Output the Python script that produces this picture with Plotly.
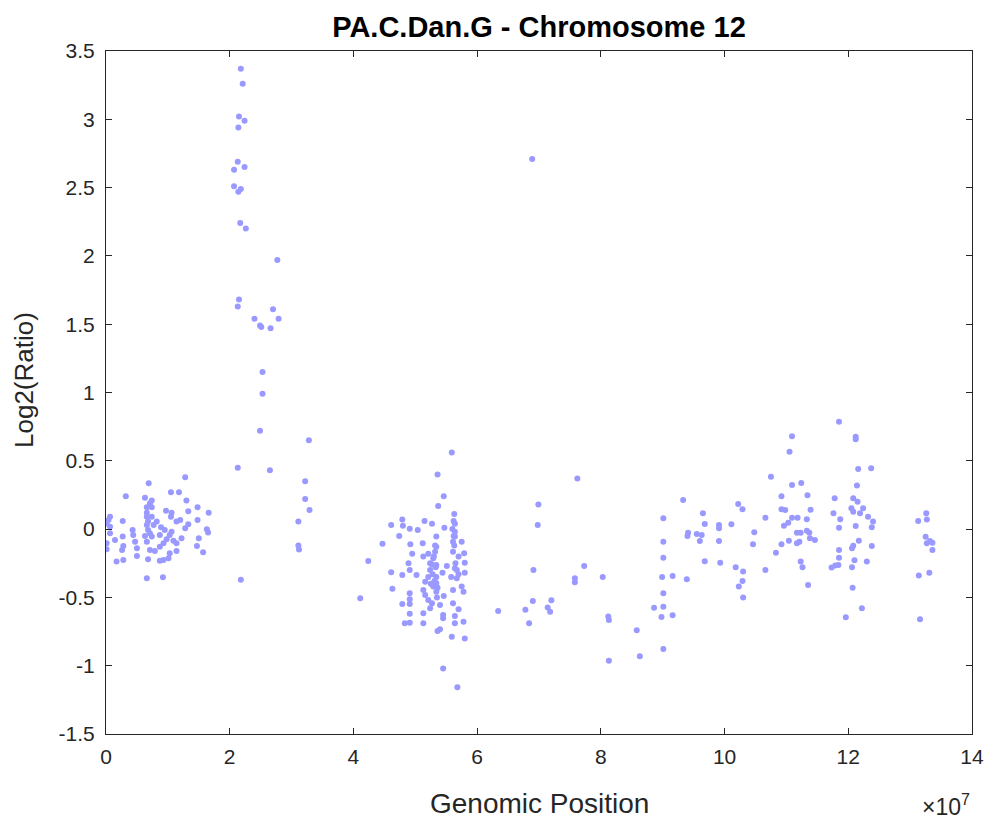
import plotly.graph_objects as go

# Genomic positions (units of 1e7 bp) and log2 ratios
pos_a = [2.18, 2.21, 2.15, 2.24, 2.14, 2.13, 2.24, 2.07, 2.07, 2.18, 2.14, 2.17, 2.26,
         2.77, 2.15, 2.13, 2.70, 2.40, 2.79, 2.49, 2.51, 2.66, 2.53, 2.53, 2.49, 3.28,
         2.13, 2.65, 3.22, 3.22, 3.29, 3.11, 3.11, 3.12, 2.18]
val_a = [3.37, 3.26, 3.02, 2.99, 2.94, 2.69, 2.65, 2.63, 2.51, 2.49, 2.47, 2.24, 2.20,
         1.97, 1.68, 1.63, 1.61, 1.54, 1.54, 1.49, 1.48, 1.47, 1.15, 0.99, 0.72, 0.65,
         0.45, 0.43, 0.35, 0.22, 0.14, 0.055, -0.12, -0.15, -0.37]

pos_b = [1.28, 0.69, 0.32, 1.05, 1.18, 0.63, 0.74, 1.30, 0.71, 0.66, 0.74, 1.48, 0.97,
         1.06, 1.33, 1.66, 0.66, 0.065, 0.66, 0.74, 1.05, 1.20, 1.48, 0.04, 0.27, 1.14,
         0.68, 0.82, 0.01, 0.66, 0.77, 1.33, 0.065, 0.89, 0.68, 0.95, 1.28, 0.43, 1.63,
         1.06, 0.71, 1.65, 0.44, 0.065, 0.87, 1.03, 0.63, 0.74, 0.27, 1.22, 0.98, 1.50,
         0.145, 1.09, 0.47, 0.93, 0.66, 0.01, 1.14, 0.28, 1.47, 0.87, 0.71, 0.01, 0.50,
         0.79, 1.14, 0.26, 1.57, 1.03, 0.50, 0.68, 0.93, 1.01, 0.17, 0.28, 0.87, 0.66, 0.92]
val_b = [0.38, 0.335, 0.24, 0.27, 0.27, 0.23, 0.21, 0.21, 0.19, 0.16, 0.16, 0.16, 0.135,
         0.12, 0.13, 0.12, 0.12, 0.09, 0.09, 0.09, 0.09, 0.067, 0.067, 0.067, 0.06, 0.055,
         0.055, 0.055, 0.04, 0.03, 0.03, 0.035, 0.018, 0.013, -0.007, -0.007, 0.006, -0.007, -0.002,
         -0.02, -0.03, -0.024, -0.043, -0.03, -0.043, -0.043, -0.05, -0.055, -0.055, -0.067, -0.075, -0.067,
         -0.08, -0.085, -0.092, -0.104, -0.092, -0.104, -0.104, -0.124, -0.124, -0.13, -0.153, -0.148, -0.14,
         -0.16, -0.16, -0.153, -0.17, -0.177, -0.197, -0.22, -0.226, -0.214, -0.238, -0.226, -0.231, -0.36, -0.353]

pos_c = [5.59, 5.36, 5.46, 5.37, 5.63, 4.79, 5.15, 5.27, 4.61, 4.80, 4.91, 5.04, 5.47,
         5.64, 5.64, 4.74, 5.34, 5.64, 4.47, 4.92, 5.12, 5.34, 5.61, 5.75, 5.32, 5.61,
         5.79, 4.95, 5.21, 5.13, 5.70, 5.29, 4.24, 5.80, 4.89, 5.24, 5.34, 5.51, 5.64,
         4.91, 5.24, 4.61, 4.79, 5.02, 5.44, 5.80, 5.21, 5.34, 5.67, 5.16, 5.34, 5.29,
         5.75, 4.63, 5.13, 5.61, 5.78, 5.34, 4.91, 5.16, 5.46, 4.11, 4.91, 5.21, 5.61,
         4.79, 4.91, 5.27, 5.40, 5.24, 5.70, 4.91, 5.13, 5.45, 5.64, 5.78, 4.83, 4.91,
         5.13, 5.45, 5.64, 5.40, 5.36, 5.59, 5.80, 5.45, 5.68,
         5.30, 5.33, 5.28, 5.31, 5.36, 5.27, 5.32, 5.62, 5.60, 5.63, 5.65, 5.67, 5.62,
         5.58, 5.70, 5.25, 5.35]
val_c = [0.56, 0.40, 0.24, 0.17, 0.11, 0.07, 0.06, 0.04, 0.03, 0.025, 0.003, -0.007, 0.01,
         0.04, -0.02, -0.05, -0.055, -0.055, -0.107, -0.11, -0.104, -0.13, -0.092, -0.092, -0.165, -0.165,
         -0.177, -0.18, -0.18, -0.20, -0.20, -0.214, -0.233, -0.246, -0.25, -0.25, -0.263, -0.27, -0.287,
         -0.30, -0.30, -0.316, -0.336, -0.336, -0.32, -0.32, -0.35, -0.35, -0.36, -0.385, -0.397, -0.42,
         -0.42, -0.436, -0.446, -0.446, -0.458, -0.458, -0.47, -0.482, -0.49, -0.507, -0.514, -0.519, -0.543,
         -0.548, -0.548, -0.543, -0.556, -0.58, -0.587, -0.62, -0.616, -0.629, -0.636, -0.678, -0.69, -0.685,
         -0.69, -0.653, -0.69, -0.734, -0.746, -0.788, -0.80, -1.02, -1.158,
         -0.20, -0.28, -0.33, -0.38, -0.43, -0.26, -0.12, -0.05, 0.0, -0.12, -0.25, -0.30, 0.06,
         -0.35, -0.33, -0.40, -0.50]

pos_d = [6.89, 7.62, 6.99, 6.98, 6.91, 7.73, 7.58, 7.58, 6.90, 7.20, 6.34, 6.78, 7.14,
         7.18, 6.84,
         9.33, 9.01, 9.65, 10.22, 10.29, 9.68, 9.91, 9.91, 10.11, 10.48, 9.41, 9.40, 9.55,
         9.63, 9.60, 9.91, 10.46, 9.01, 9.01, 9.68, 9.93, 10.18, 10.30, 10.29, 10.23, 10.30,
         8.03, 8.99, 9.16, 9.39, 9.01, 8.86, 9.01, 8.98, 9.16, 8.12, 8.13, 8.58, 8.63,
         9.01, 8.13]
val_d = [2.71, 0.37, 0.18, 0.03, -0.30, -0.27, -0.36, -0.39, -0.526, -0.52, -0.60, -0.59, -0.574,
         -0.605, -0.69,
         0.213, 0.079, 0.116, 0.184, 0.145, 0.037, 0.03, 0.006, 0.035, -0.023, -0.026, -0.05, -0.036,
         -0.043, -0.087, -0.087, -0.11, -0.092, -0.21, -0.236, -0.246, -0.28, -0.31, -0.38, -0.42, -0.50,
         -0.35, -0.35, -0.343, -0.367, -0.47, -0.575, -0.568, -0.643, -0.63, -0.64, -0.665, -0.74, -0.93,
         -0.878, -0.963]

pos_e = [11.85, 11.09, 12.12, 12.12, 11.05, 12.16, 12.37, 10.75, 11.09, 11.24, 12.14, 10.92,
         11.34, 11.78, 12.08, 12.15, 10.92, 10.98, 11.39, 12.05, 12.24, 12.08, 12.19, 10.66,
         11.09, 11.18, 11.33, 11.76, 11.87, 12.32, 12.40, 11.03, 10.96, 11.85, 12.12, 12.38,
         11.17, 11.23, 11.33, 11.37, 11.38, 11.46, 11.04, 11.17, 11.21, 10.92, 12.17, 12.08,
         12.06, 12.38, 10.83, 11.85, 11.85, 12.10, 12.30, 11.23, 11.26, 11.79, 11.73, 11.84,
         12.06, 10.66, 11.35, 12.07, 12.22, 11.96,
         13.26, 13.13, 13.27, 13.25, 13.27, 13.32, 13.36, 13.36, 13.14, 13.31, 13.16]
val_e = [0.786, 0.68, 0.676, 0.657, 0.567, 0.44, 0.445, 0.384, 0.323, 0.337, 0.32, 0.24,
         0.247, 0.225, 0.225, 0.20, 0.145, 0.14, 0.142, 0.152, 0.152, 0.127, 0.116, 0.084,
         0.084, 0.084, 0.072, 0.116, 0.072, 0.09, 0.055, 0.047, 0.025, 0.01, 0.023, 0.013,
         -0.026, -0.026, -0.012, -0.026, -0.067, -0.08, -0.085, -0.104, -0.092, -0.11, -0.085, -0.121,
         -0.14, -0.124, -0.173, -0.153, -0.21, -0.228, -0.238, -0.238, -0.28, -0.267, -0.282, -0.263,
         -0.28, -0.30, -0.41, -0.43, -0.58, -0.645,
         0.116, 0.06, 0.07, -0.056, -0.104, -0.087, -0.10, -0.153, -0.34, -0.32, -0.66]

x_ticks = [0, 2, 4, 6, 8, 10, 12, 14]
y_ticks = [-1.5, -1, -0.5, 0, 0.5, 1, 1.5, 2, 2.5, 3, 3.5]
y_tick_labels = ["-1.5", "-1", "-0.5", "0", "0.5", "1", "1.5", "2", "2.5", "3", "3.5"]

SCALE = 1e7
xs = [p * SCALE for p in pos_a + pos_b + pos_c + pos_d + pos_e]
ys = val_a + val_b + val_c + val_d + val_e

font_family = "Liberation Sans, Arial, sans-serif"
axis_color = "#262626"
# page has an 8px body margin
W, H = 976, 814
ML, MR, MT, MB = 98, 12, 43, 88
PW, PH = W - ML - MR, H - MT - MB

fig = go.Figure()
fig.add_trace(go.Scatter(
    x=xs, y=ys, mode="markers",
    marker=dict(color="#9999ff", size=6, line=dict(width=0)),
    showlegend=False, hoverinfo="skip",
))

fig.update_layout(
    width=W, height=H,
    margin=dict(l=ML, r=MR, t=MT, b=MB, autoexpand=False),
    paper_bgcolor="white", plot_bgcolor="white",
    title=dict(text="<b>PA.C.Dan.G - Chromosome 12</b>", x=(ML + PW / 2) / W, xanchor="center",
               y=1 - 19 / H, yanchor="middle",
               font=dict(family=font_family, size=29, color="black")),
    font=dict(family=font_family, color=axis_color),
)
fig.update_xaxes(
    range=[0, 14 * SCALE], automargin=False,
    tickvals=[t * SCALE for t in x_ticks], ticktext=[str(t) for t in x_ticks],
    ticks="inside", ticklen=6, tickcolor=axis_color, tickwidth=1,
    showline=True, linecolor=axis_color, linewidth=1, mirror="allticks",
    showgrid=False, zeroline=False, ticklabelstandoff=4,
    tickfont=dict(size=21, color=axis_color),
)
fig.update_yaxes(
    range=[-1.5, 3.5], automargin=False,
    tickvals=y_ticks, ticktext=y_tick_labels,
    ticks="inside", ticklen=6, tickcolor=axis_color, tickwidth=1,
    showline=True, linecolor=axis_color, linewidth=1, mirror="allticks",
    showgrid=False, zeroline=False, ticklabelstandoff=6,
    tickfont=dict(size=21, color=axis_color),
)
# axis titles and exponent label
fig.add_annotation(
    text="Genomic Position", xref="paper", yref="paper", x=0.5, y=(-795 + (H - MB)) / PH,
    xanchor="center", yanchor="middle", showarrow=False,
    font=dict(family=font_family, size=28, color=axis_color),
)
fig.add_annotation(
    text="Log2(Ratio)", xref="paper", yref="paper", x=(16 - ML) / PW, y=((H - MB) - 372) / PH,
    xanchor="center", yanchor="middle", showarrow=False, textangle=-90,
    font=dict(family=font_family, size=26, color=axis_color),
)
fig.add_annotation(
    text="×10<sup>7</sup>", xref="paper", yref="paper", x=1.0, y=(-797 + (H - MB)) / PH,
    xanchor="right", yanchor="middle", showarrow=False,
    font=dict(family=font_family, size=23, color=axis_color),
)

fig.write_html("out.html")
